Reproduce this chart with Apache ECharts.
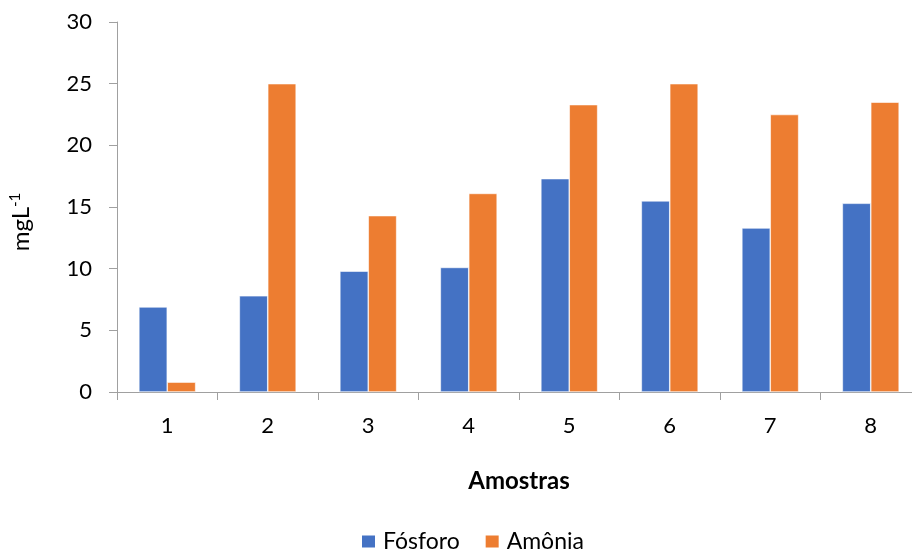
<!DOCTYPE html>
<html>
<head>
<meta charset="utf-8">
<script src="https://cdn.jsdelivr.net/npm/echarts@6/dist/echarts.min.js"></script>
<style>
  html, body { margin: 0; padding: 0; background: #fff; overflow: hidden; }
  /* the drawing surface runs a few pixels past the right edge of the window */
  #chart { width: 921px; height: 554px; }
</style>
</head>
<body>
<div id="chart"></div>
<script>
// Sample numbers on the category axis
const amostras = ['1', '2', '3', '4', '5', '6', '7', '8'];
// Concentrations in mg L-1
const fosforo = [6.9, 7.8, 9.8, 10.1, 17.3, 15.5, 13.3, 15.3];
const amonia  = [0.8, 25.0, 14.3, 16.1, 23.3, 25.0, 22.5, 23.5];

const FONT = 'Lato, "Open Sans", sans-serif';
const axisGray = '#a0a0a0';

const chart = echarts.init(document.getElementById('chart'), null, { renderer: 'canvas' });

chart.setOption({
  animation: false,
  textStyle: { fontFamily: FONT, color: '#000' },
  grid: { left: 116, top: 22, right: 0, height: 370 },
  legend: {
    data: ['Fósforo', 'Amônia'],
    left: 355,
    top: 525,
    icon: 'rect',
    itemWidth: 15,
    itemHeight: 14,
    itemGap: 24,
    textStyle: { fontFamily: FONT, fontSize: 23, color: '#000', padding: [0, 0, 0, 2] }
  },
  xAxis: {
    type: 'category',
    data: amostras,
    name: 'Amostras',
    nameLocation: 'middle',
    nameGap: 77,
    nameTextStyle: { fontFamily: FONT, fontSize: 24, fontWeight: 'bold', color: '#000' },
    axisLine: { show: true, lineStyle: { color: axisGray, width: 1 } },
    axisTick: { show: true, length: 8, lineStyle: { color: axisGray } },
    axisLabel: { fontFamily: FONT, fontSize: 22, color: '#000', margin: 23 }
  },
  yAxis: {
    type: 'value',
    min: 0,
    max: 30,
    interval: 5,
    name: '{a|mgL}{b|-1}',
    nameLocation: 'middle',
    nameRotate: 90,
    nameGap: 83,
    nameTextStyle: {
      padding: [0, 30, 0, 0],
      rich: {
        a: { fontFamily: FONT, fontSize: 24, color: '#000' },
        b: { fontFamily: FONT, fontSize: 15, color: '#000', padding: [0, 0, 11, 0] }
      }
    },
    axisLine: { show: true, lineStyle: { color: axisGray, width: 1 } },
    axisTick: { show: true, length: 8, lineStyle: { color: axisGray } },
    splitLine: { show: false },
    axisLabel: { fontFamily: FONT, fontSize: 22, color: '#000', margin: 25 }
  },
  series: [
    {
      name: 'Fósforo',
      type: 'bar',
      data: fosforo,
      barWidth: 28.4,
      barGap: '0%',
      itemStyle: { color: '#4472C4', borderColor: '#ffffff', borderWidth: 0.6 }
    },
    {
      name: 'Amônia',
      type: 'bar',
      data: amonia,
      barWidth: 28.4,
      barGap: '0%',
      itemStyle: { color: '#ED7D31', borderColor: '#ffffff', borderWidth: 0.6 }
    }
  ]
});
</script>
</body>
</html>
